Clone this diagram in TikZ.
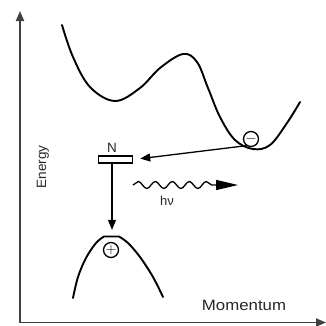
\documentclass[tikz,border=0pt]{standalone}
\usepackage{fontspec}
\setmainfont{Liberation Sans}
\usetikzlibrary{arrows.meta,decorations.pathmorphing}
\begin{document}
\begin{tikzpicture}[x=1pt,y=-1pt,
  curve/.style={line width=1.9pt,line cap=round,line join=round},
  axis/.style={line width=1.8pt,draw=black!75},
  tip/.style={-{Triangle[length=10pt,width=8pt]}},
  charge/.style={circle,draw,line width=1.3pt,minimum size=15pt,inner sep=0pt,font=\fontsize{15}{15}\selectfont},
  lbl/.style={inner sep=0pt,text=black!85}]
\useasboundingbox (0,0) rectangle (326,325);
% axes
\coordinate (O) at (20,322.5);
\coordinate (ytop) at (20,11);
\coordinate (xend) at (326,322.5);
\draw[axis,tip] (O) -- (ytop);
\draw[axis,tip] (O) -- (xend);
% conduction band
\draw[curve] plot[smooth,tension=0.6] coordinates {(62,25) (73,57) (90,87) (115,101) (140,88) (160,68) (183,54) (197,62) (208,88) (220,117) (235,140) (253,149) (270,145) (287,123) (300,102)};
% valence band
\draw[curve] plot[smooth,tension=0.6] coordinates {(73,298) (78,277) (86,258) (96,243) (104,236.5)} -- (119,236.5) plot[smooth,tension=0.6] coordinates {(119,236.5) (128,243) (140,257) (153,277) (163,297)};
% charges
\node[charge] (minus) at (251,139) {$-$};
\node[charge] (plus) at (111,250) {$+$};
% impurity level
\node[draw,line width=1.5pt,minimum width=34pt,minimum height=7pt,inner sep=0pt] (box) at (115.5,159.5) {};
\node[lbl,font=\fontsize{13.5}{13.5}\selectfont] (nlabel) at (112,147.5) {N};
% transitions
\draw[line width=1.3pt,tip,shorten >=7pt] (minus.235) -- (box.east);
\draw[line width=1.3pt,tip,shorten >=12pt] (box.south -| nlabel) -- (plus.north -| nlabel);
% photon
\coordinate (wstart) at (133,185);
\coordinate (wtip) at (238,185);
\draw[line width=1.3pt,decorate,decoration={snake,amplitude=3.5pt,segment length=17pt,post length=24pt},-{Triangle[length=22pt,width=10pt]}] (wstart) -- (wtip);
\node[lbl,font=\fontsize{13}{13}\selectfont] (hnu) at (167,201) {hν};
% axis labels
\node[lbl,font=\fontsize{15}{15}\selectfont,xscale=1.12] (mom) at (244,305) {Momentum};
\node[lbl,font=\fontsize{13.5}{13.5}\selectfont,rotate=90] (en) at (43,167) {Energy};
\end{tikzpicture}
\end{document}
